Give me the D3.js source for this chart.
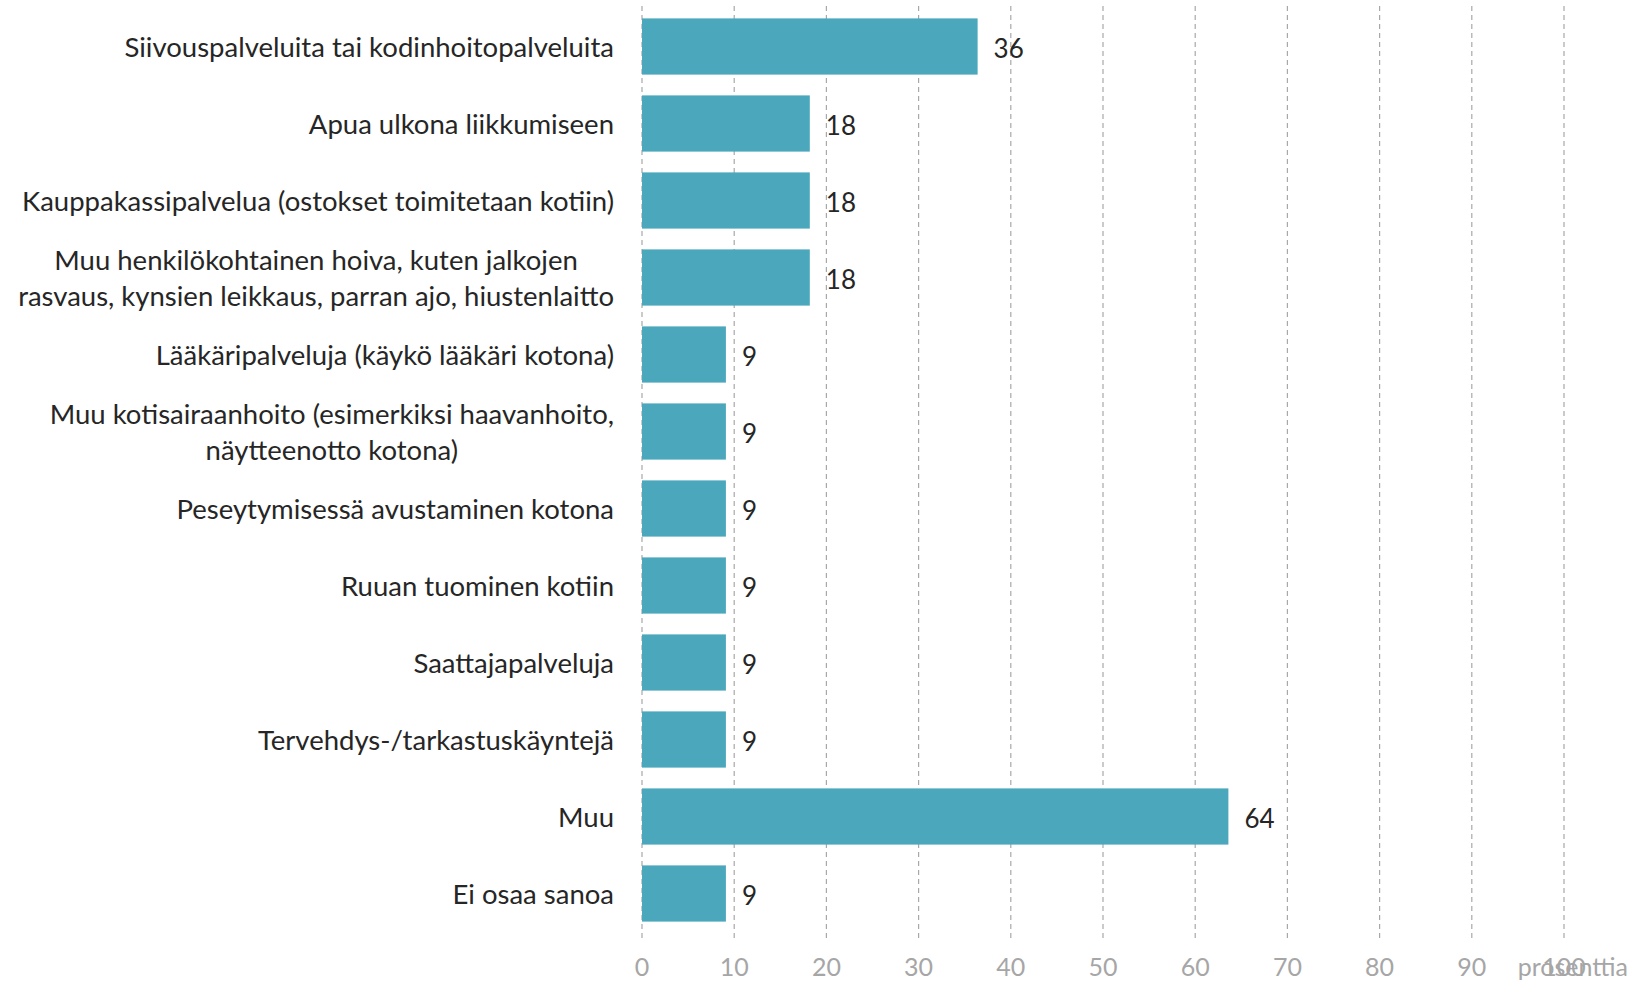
<!DOCTYPE html>
<html lang="fi">
<head>
<meta charset="utf-8">
<script src="https://d3js.org/d3.v7.min.js"></script>
<style>
    body { margin: 0; background: #ffffff; }
    text { font-family: Lato, "Open Sans", sans-serif; }
</style>
</head>
<body>
<svg id="chart" width="1632" height="982"></svg>
<script>
    // categories (each entry = lines of the wrapped label)
    var categories = [
        ["Siivouspalveluita tai kodinhoitopalveluita"],
        ["Apua ulkona liikkumiseen"],
        ["Kauppakassipalvelua (ostokset toimitetaan kotiin)"],
        ["Muu henkilökohtainen hoiva, kuten jalkojen", "rasvaus, kynsien leikkaus, parran ajo, hiustenlaitto"],
        ["Lääkäripalveluja (käykö lääkäri kotona)"],
        ["Muu kotisairaanhoito (esimerkiksi haavanhoito,", "näytteenotto kotona)"],
        ["Peseytymisessä avustaminen kotona"],
        ["Ruuan tuominen kotiin"],
        ["Saattajapalveluja"],
        ["Tervehdys-/tarkastuskäyntejä"],
        ["Muu"],
        ["Ei osaa sanoa"]
    ];
    var values = [36.4, 18.2, 18.2, 18.2, 9.1, 9.1, 9.1, 9.1, 9.1, 9.1, 63.6, 9.1];
    var valueLabels = ["36", "18", "18", "18", "9", "9", "9", "9", "9", "9", "64", "9"];
    var ticks = [0, 10, 20, 30, 40, 50, 60, 70, 80, 90, 100];
    var unitLabel = "prosenttia";

    var svg = d3.select("#chart");
    var plotLeft = 642, plotRight = 1564;
    var plotTop = 8, plotBottom = 932;

    var x = d3.scaleLinear().domain([0, 100]).range([plotLeft, plotRight]);
    var y = d3.scaleBand()
        .domain(d3.range(categories.length))
        .range([plotTop, plotBottom])
        .paddingInner(0.27)
        .paddingOuter(0.135);

    // dashed vertical gridlines
    svg.append("g").selectAll("line")
        .data(ticks)
        .enter().append("line")
        .attr("x1", d => x(d)).attr("x2", d => x(d))
        .attr("y1", 6).attr("y2", 938)
        .style("stroke", "#a8a8a8")
        .style("stroke-width", 1.2)
        .style("stroke-dasharray", "5,4");

    // bars
    svg.append("g").selectAll("rect")
        .data(values)
        .enter().append("rect")
        .attr("x", x(0))
        .attr("y", (d, i) => y(i))
        .attr("width", d => x(d) - x(0))
        .attr("height", y.bandwidth())
        .style("fill", "#4ba7bc");

    // value labels
    svg.append("g").selectAll("text")
        .data(values)
        .enter().append("text")
        .attr("x", d => x(d) + 16)
        .attr("y", (d, i) => y(i) + y.bandwidth() / 2 + 2)
        .attr("dy", "0.36em")
        .style("font-size", "26px")
        .style("fill", "#262626")
        .text((d, i) => valueLabels[i]);

    // category labels, lines centred within a right-aligned block
    var labelRight = 614;
    var lineH = 36;
    categories.forEach(function(lines, i) {
        var g = svg.append("g");
        var cy = y(i) + y.bandwidth() / 2 + 1;
        var texts = lines.map(function(t, k) {
            return g.append("text")
                .attr("y", cy + (k - (lines.length - 1) / 2) * lineH)
                .attr("dy", "0.36em")
                .attr("text-anchor", "middle")
                .style("font-size", "27.5px")
                .style("fill", "#262626")
                .text(t);
        });
        var maxW = d3.max(texts, t => t.node().getComputedTextLength());
        texts.forEach(t => t.attr("x", labelRight - maxW / 2));
    });

    // x axis tick labels
    svg.append("g").selectAll("text")
        .data(ticks)
        .enter().append("text")
        .attr("x", d => x(d))
        .attr("y", 967)
        .attr("dy", "0.36em")
        .attr("text-anchor", "middle")
        .style("font-size", "25px")
        .style("fill", "#a6a6a6")
        .text(d => d);

    svg.append("text")
        .attr("x", 1628)
        .attr("y", 967)
        .attr("dy", "0.36em")
        .attr("text-anchor", "end")
        .style("font-size", "25px")
        .style("fill", "#a6a6a6")
        .text(unitLabel);
</script>
</body>
</html>
